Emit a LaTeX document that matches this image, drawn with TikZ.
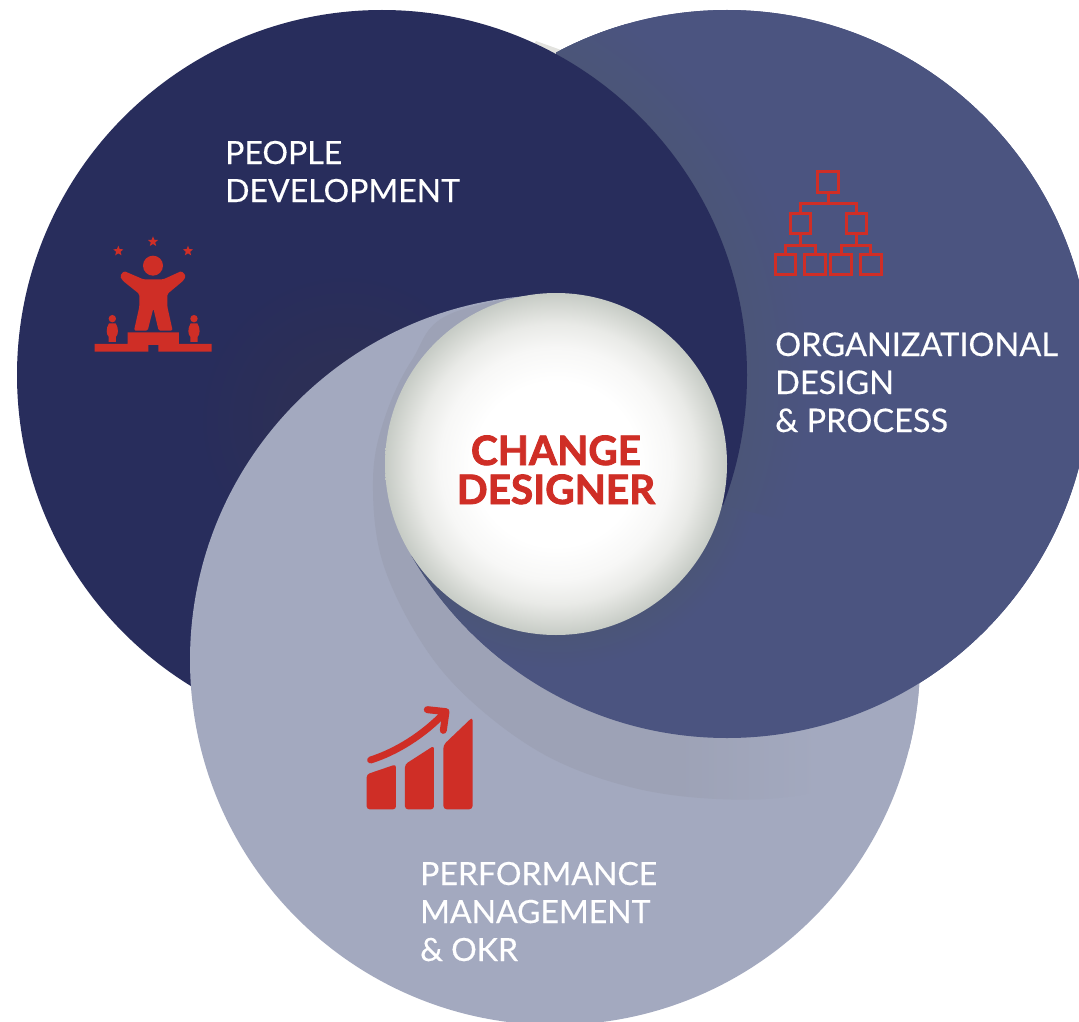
\documentclass[tikz,border=0pt]{standalone}
\usepackage{fontspec}
\setmainfont[FakeBold=0.35]{Lato}
\newfontfamily\headfont[BoldFeatures={FakeBold=2}]{Lato}
\usetikzlibrary{calc}
\definecolor{dk}{HTML}{282D5C}
\definecolor{dkshade}{HTML}{2C2F56}
\definecolor{md}{HTML}{4B5480}
\definecolor{mdshade}{HTML}{4B5578}
\definecolor{lt}{HTML}{A3A9BF}
\definecolor{ltshade}{HTML}{9DA2B6}
\definecolor{rd}{HTML}{CF2E26}
\definecolor{ballA}{HTML}{FFFFFF}
\definecolor{ballB}{HTML}{F7F7F6}
\definecolor{ballC}{HTML}{E9EAE7}
\definecolor{ballD}{HTML}{D6D9D4}
\definecolor{ballE}{HTML}{C6CBC5}
\definecolor{sliver}{HTML}{E2E2DE}
\pgfdeclareradialshading{sphereshade}{\pgfpoint{0bp}{0bp}}{color(0bp)=(ballA); color(12bp)=(ballA); color(17bp)=(ballB); color(20.5bp)=(ballC); color(23bp)=(ballD); color(25bp)=(ballE); color(50bp)=(ballE)}
\pgfdeclareradialshading{dkblob}{\pgfpoint{0bp}{0bp}}{color(0bp)=(dkshade); color(10bp)=(dkshade); color(25bp)=(dk); color(50bp)=(dk)}
\pgfdeclareradialshading{mdring}{\pgfpoint{0bp}{0bp}}{color(0bp)=(mdshade); color(21.3bp)=(mdshade); color(25bp)=(md); color(50bp)=(md)}
\pgfdeclareradialshading{ballring}{\pgfpoint{0bp}{0bp}}{color(0bp)=(mdshade); color(20.8bp)=(mdshade); color(25bp)=(md); color(50bp)=(md)}
\pgfdeclarehorizontalshading{bandshade}{100bp}{color(0bp)=(ltshade); color(52bp)=(ltshade); color(62bp)=(lt); color(100bp)=(lt)}
\tikzset{
  x=1pt,y=-1pt,
  caption/.style={anchor=base west,inner sep=0pt,text=white,align=left,font=\fontsize{32}{38}\selectfont},
  heading/.style={anchor=base,inner sep=0pt,text=rd,align=center,font=\fontsize{40.5}{39}\headfont\bfseries},
  iconfill/.style={fill=rd,draw=none},
  iconline/.style={draw=rd,line width=3pt},
}
\newcommand{\darkdisc}{(382,375) circle (365pt)}
\newcommand{\middisc}{(727,374) circle (364pt)}
\newcommand{\lightdisc}{(555,660) circle (365pt)}
\newcommand{\rightwedge}{(556,464) -- (556,-200) -- (1300,-200) -- (1300,647) -- cycle}
\newcommand{\bottomwedge}{(556,464) -- (1300,647) -- (1300,1500) -- (-500,1500) -- (-500,1136) -- cycle}
\newcommand{\lowerwedges}{(556,464) -- (556,-200) -- (1300,-200) -- (1300,1500) -- (-500,1500) -- (-500,1136) -- cycle}
\begin{document}
\begin{tikzpicture}
\useasboundingbox (0,0) rectangle (1079,1022);
\fill[white] (0,0) rectangle (1079,1022);
\begin{scope}
\clip (0,0) rectangle (1079,1022);
% base order
\fill[md] \middisc;
\fill[sliver] (536,41) -- (561,50) -- (558,60) -- (530,52) -- cycle;
\fill[dk] \darkdisc;
\begin{scope}
  \clip \darkdisc;
  \shade[shading=dkblob] (345,420) circle (150pt);
\end{scope}
\fill[lt] \lightdisc;
\begin{scope}
  \clip \lightdisc;
  \clip plot[smooth cycle,tension=0.6] coordinates {(455,312) (412,360) (384,420) (373,480) (382,560) (420,640) (470,700) (545,755) (630,787) (717,799) (800,795) (870,770) (960,700) (1050,500) (800,300) (600,290)};
  \shade[shading=bandshade] (300,250) rectangle (1000,850);
\end{scope}
% mid over light everywhere outside the left wedge
\begin{scope}
  \clip \lowerwedges;
  \fill[md] \middisc;
\end{scope}
% bottom wedge: soft shade beside the sphere
\begin{scope}
  \clip \bottomwedge;
  \clip \middisc;
  \shade[shading=ballring] (556,464) circle (205pt);
\end{scope}
% right wedge: dark over mid
\begin{scope}
  \clip \rightwedge;
  \begin{scope}
    \clip \middisc;
    \shade[shading=mdring] (382,375) circle (428pt);
  \end{scope}
  \fill[dk] \darkdisc;
\end{scope}
\end{scope}
% central sphere
\node[circle,minimum size=342pt,inner sep=0pt,shading=sphereshade] (core) at (556,464) {};
\node[heading] (coretitle) at (556,504) {CHANGE\\DESIGNER};
% captions
\node[caption] (people) at (225,202) {PEOPLE\\DEVELOPMENT};
\node[caption,font=\fontsize{32.5}{38}\selectfont] (org) at (775,432) {ORGANIZATIONAL\\DESIGN\\\& PROCESS};
\node[caption] (perf) at (420,961) {PERFORMANCE\\MANAGEMENT\\\& OKR};
% podium icon
\begin{scope}[shift={(80pt,-220pt)},x=0.3333pt,y=-0.3333pt]
  \foreach \sx/\sy in {115/93,219/65,324/93}{
    \fill[rd] plot[samples=11,domain=0:360,variable=\a] ({\sx+(mod(round(\a/36),2)==0?16:7)*sin(\a)},{\sy-(mod(round(\a/36),2)==0?16:7)*cos(\a)});
  }
  \fill[rd] (219,137) circle (10pt);
  \fill[iconfill,rounded corners=1.5pt] (120,168) -- (132,153) -- (190,178) -- (250,178) -- (305,153) -- (318,168) -- (310,182) -- (262,222) -- (262,260) -- (278,332) -- (236,332) -- (220,265) -- (203,332) -- (162,332) -- (178,260) -- (178,222) -- (128,182) -- cycle;
  \fill[iconfill] (44,372) -- (44,395) -- (205,395) -- (205,375) -- (235,375) -- (235,395) -- (395,395) -- (395,372) -- (297,372) -- (297,337) -- (143,337) -- (143,372) -- cycle;
  \foreach \px in {97,342}{
    \fill[rd] (\px,296) circle (3.7pt);
    \fill[rd] (\px-10,310) .. controls (\px-20,325) and (\px-18,345) .. (\px-11,350) -- (\px-11,366) -- (\px+11,366) -- (\px+11,350) .. controls (\px+18,345) and (\px+20,325) .. (\px+10,310) -- cycle;
  }
\end{scope}
% organisation chart icon
\begin{scope}[shift={(760pt,-160pt)},x=0.3333pt,y=-0.3333pt]
  \draw[iconline] (172,35) rectangle (236,97);
  \draw[iconline] (90,160) rectangle (152,220);
  \draw[iconline] (258,160) rectangle (320,220);
  \draw[iconline] (45,285) rectangle (107,345);
  \draw[iconline] (133,285) rectangle (195,345);
  \draw[iconline] (212,285) rectangle (275,345);
  \draw[iconline] (302,285) rectangle (365,345);
  \draw[iconline] (204,97) -- (204,130);
  \draw[iconline] (120,160) -- (120,130) -- (290,130) -- (290,160);
  \draw[iconline] (120,220) -- (120,258);
  \draw[iconline] (75,285) -- (75,258) -- (165,258) -- (165,285);
  \draw[iconline] (290,220) -- (290,258);
  \draw[iconline] (243,285) -- (243,258) -- (332,258) -- (332,285);
\end{scope}
% growth chart icon
\begin{scope}[shift={(350pt,-695pt)},x=0.3333pt,y=-0.3333pt]
  \fill[iconfill,rounded corners=3pt] (50,238) -- (138,208) -- (138,343) -- (50,343) -- cycle;
  \fill[iconfill,rounded corners=3pt] (165,208) -- (252,152) -- (252,343) -- (165,343) -- cycle;
  \fill[iconfill,rounded corners=3.5pt] (280,150) -- (368,66) -- (368,343) -- (280,343) -- cycle;
  \draw[rd,line width=7pt,line cap=round,line join=round] (62,195) .. controls (140,170) and (220,120) .. (285,52);
  \draw[rd,line width=7pt,line cap=round,line join=round] (232,44) -- (288,50) -- (280,106);
\end{scope}
\end{tikzpicture}
\end{document}
